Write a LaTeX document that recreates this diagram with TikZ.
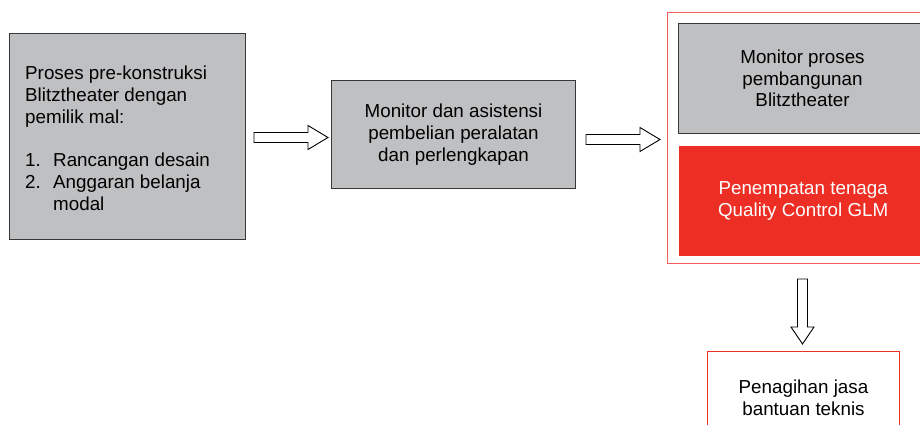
\documentclass[tikz,border=0pt]{standalone}
\usepackage{fontspec}
\setmainfont{Liberation Sans}
\usetikzlibrary{positioning,calc}

\definecolor{boxgray}{RGB}{191,192,194}
\definecolor{edgegray}{RGB}{55,55,55}
\definecolor{glmred}{RGB}{237,46,36}
\definecolor{framered}{RGB}{240,95,88}

\newcommand{\flowfont}{\fontsize{18.8}{21.7}\selectfont}

% hollow block arrows: start, tip
\newcommand{\hollowright}[2]{%
  \draw[hollow] ($(#1)+(0,-5)$) -- ($(#2)+(-20,-5)$) -- ($(#2)+(-20,-12)$) -- (#2)
    -- ($(#2)+(-20,12)$) -- ($(#2)+(-20,5)$) -- ($(#1)+(0,5)$) -- cycle;}
\newcommand{\hollowdown}[2]{%
  \draw[hollow] ($(#1)+(-5,0)$) -- ($(#2)+(-5,-17)$) -- ($(#2)+(-11.5,-17)$) -- (#2)
    -- ($(#2)+(11.5,-17)$) -- ($(#2)+(5,-17)$) -- ($(#1)+(5,0)$) -- cycle;}

\tikzset{
  graybox/.style={draw=edgegray, fill=boxgray, line width=1pt, align=center, font=\flowfont, anchor=north west},
  redbox/.style={fill=glmred, text=white, align=center, font=\flowfont, anchor=north west},
  outlinebox/.style={draw=glmred, line width=1pt, fill=white, align=center, font=\flowfont, anchor=north west},
  hollow/.style={draw=black, fill=white, line width=0.9pt, line join=miter},
}

\begin{document}
\begin{tikzpicture}[x=1pt, y=-1pt]
    \useasboundingbox (0,0) rectangle (920,425);
    \clip (0,0) rectangle (920,425);

    % pre-construction
    \node[graybox, minimum width=236, minimum height=206] (prekons) at (9,33) {};
    \node[font=\flowfont, align=left, anchor=north west, inner sep=0pt] (prekonstext) at (25,66)
        {Proses pre-konstruksi\\Blitztheater dengan\\pemilik mal:\\[21.7pt]
         \makebox[28pt][l]{1.}Rancangan desain\\
         \makebox[28pt][l]{2.}Anggaran belanja\\
         \hspace*{28pt}modal};

    % equipment purchase
    \node[graybox, minimum width=244, minimum height=108] (asist) at (331,80)
        {Monitor dan asistensi\\pembelian peralatan\\dan perlengkapan};

    % construction stage
    \node[draw=framered, line width=1pt, minimum width=270, minimum height=251, anchor=north west] (tahap) at (667,12) {};
    \node[graybox, minimum width=248, minimum height=110] (bangun) at (678,23)
        {Monitor proses\\pembangunan\\Blitztheater};
    \node[redbox, minimum width=248, minimum height=110] (qc) at (679,146)
        {Penempatan tenaga\\Quality Control GLM};

    % billing
    \node[outlinebox, minimum width=192, minimum height=92] (teknis) at (707,351)
        {Penagihan jasa\\bantuan teknis};

    % arrows
    \coordinate (a1s) at ($(prekons.east)+(8,1)$);
    \coordinate (a1e) at ($(asist.west)+(-3,3)$);
    \coordinate (a2s) at ($(asist.east)+(10,5)$);
    \coordinate (a2e) at ($(tahap.west)+(-7,1.5)$);
    \coordinate (a3s) at ($(tahap.south)+(0,15)$);
    \coordinate (a3e) at ($(tahap.south)+(0,80)$);
    \hollowright{a1s}{a1e}
    \hollowright{a2s}{a2e}
    \hollowdown{a3s}{a3e}
\end{tikzpicture}
\end{document}
